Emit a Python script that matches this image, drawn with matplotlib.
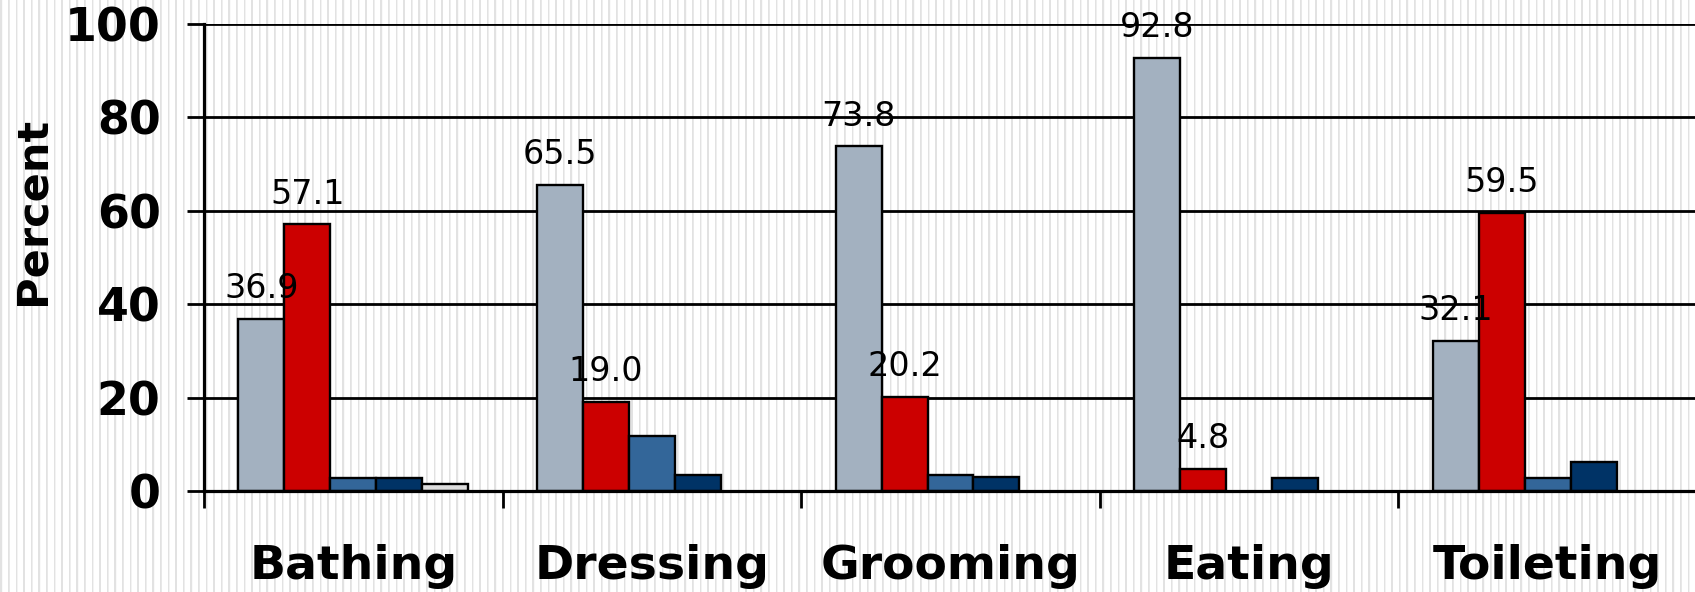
import matplotlib
matplotlib.use("Agg")
import matplotlib.pyplot as plt
import numpy as np

categories = ["Bathing", "Dressing", "Grooming", "Eating", "Toileting"]
series1 = [36.9, 65.5, 73.8, 92.8, 32.1]   # light steel gray
series2 = [57.1, 19.0, 20.2, 4.8, 59.5]    # red
series3 = [2.8, 11.8, 3.5, 0.0, 2.8]       # mid blue
series4 = [2.8, 3.5, 3.0, 2.8, 6.3]        # navy
series5 = [1.6, 0.0, 0.0, 0.0, 0.0]        # light gray
yticks = [0, 20, 40, 60, 80, 100]

colors = ["#A3B1C0", "#CC0000", "#336699", "#003366", "#DDDDDD"]
all_series = [series1, series2, series3, series4, series5]
labeled = [True, True, False, False, False]

W, H = 1695, 592
fig = plt.figure(figsize=(W / 100, H / 100), dpi=100)
fig.patch.set_facecolor("white")

# striped background texture
period = 7.6
cols = np.arange(W)
phase = np.mod(cols, period)
cov = np.clip(np.minimum(phase + 1, 2.2 - phase), 0, 1)
shade = 1.0 - cov * (1.0 - 0.89)
tex = np.tile(shade[None, :, None], (H, 1, 3))
fig.figimage(tex, xo=0, yo=0, zorder=-10)

left, right, top, bottom = 204, 1697, 24, 491
ax = fig.add_axes([left / W, (H - bottom) / H, (right - left) / W, (bottom - top) / H])
ax.set_facecolor("none")

x = np.arange(len(categories))
w = 0.154
for k, (vals, c) in enumerate(zip(all_series, colors)):
    xs = x + (k - 2) * w
    mask = [v > 0 for v in vals]
    ax.bar(xs[mask], np.array(vals)[mask], width=w, color=c,
           edgecolor="black", linewidth=1.7, zorder=3)
    if labeled[k]:
        for xi, v in zip(xs, vals):
            ax.annotate(f"{v:.1f}", (xi, v), xytext=(0, 15), textcoords="offset points",
                        ha="center", va="baseline", fontsize=24, color="black",
                        zorder=5, annotation_clip=False)

ax.set_xlim(-0.5, 4.5)
ax.set_ylim(0, 100)
ax.set_yticks(yticks)
ax.set_yticklabels([str(t) for t in yticks], fontsize=33, fontweight="bold")
ax.yaxis.grid(True, color="black", linewidth=2.0, zorder=1)
ax.set_axisbelow(True)
ax.tick_params(axis="y", direction="out", length=12.2, width=2.0, pad=19)

ax.set_xticks(x)
ax.set_xticklabels(categories, fontsize=34, fontweight="bold")
ax.set_xticks(np.arange(-0.5, 5.0, 1.0), minor=True)
ax.tick_params(axis="x", which="major", length=0, pad=38)
ax.tick_params(axis="x", which="minor", direction="out", length=12.2, width=2.0)

for s in ["top", "right"]:
    ax.spines[s].set_visible(False)
ax.spines["left"].set_linewidth(2.3)
ax.spines["bottom"].set_linewidth(2.3)
ax.spines["left"].set_zorder(4)
ax.spines["bottom"].set_zorder(4)

fig.text(33 / W, 1 - 211 / H, "Percent", rotation=90, ha="center", va="center",
         fontsize=31, fontweight="bold")

fig.savefig("out.png", dpi=100)
